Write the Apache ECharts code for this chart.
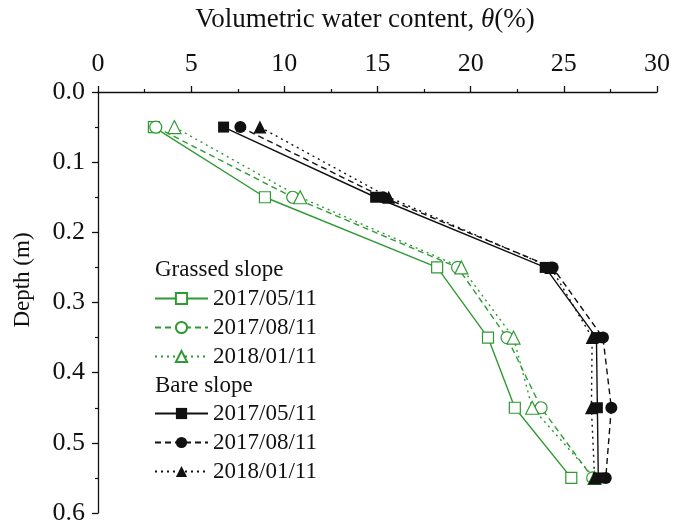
<!DOCTYPE html>
<html>
<head>
<meta charset="utf-8">
<script src="https://cdn.jsdelivr.net/npm/echarts@6/dist/echarts.min.js"></script>
<style>
  html, body { margin: 0; padding: 0; background: #fff; }
  #chart { width: 675px; height: 526px; }
</style>
</head>
<body>
<div id="chart"></div>
<script>
// Soil depth of each probe (m)
const depths = [0.05, 0.15, 0.25, 0.35, 0.45, 0.55];
const dateLabels = ['2017/05/11', '2017/08/11', '2018/01/11'];

// Volumetric water content (%) on the grassed slope
const grassedMay2017 = [3.0, 8.96, 18.2, 20.93, 22.37, 25.4];
const grassedAug2017 = [3.1, 10.45, 19.3, 21.95, 23.78, 26.55];
const grassedJan2018 = [4.1, 10.85, 19.5, 22.3, 23.3, 26.65];

// Volumetric water content (%) on the bare slope
const bareMay2017 = [6.74, 14.9, 24.0, 26.75, 26.8, 26.85];
const bareAug2017 = [7.64, 15.3, 24.4, 27.1, 27.55, 27.25];
const bareJan2018 = [8.69, 15.6, 24.3, 26.52, 26.48, 26.65];

const xTicks = { min: 0, max: 30, interval: 5 };
const yTicks = { min: 0, max: 0.6, interval: 0.1 };

const FONT = "'Liberation Serif', 'Times New Roman', serif";
const GREEN = '#2f9a34';
const BLACK = '#111111';

const pairs = (vals) => vals.map((v, i) => [v, depths[i]]);

function makeSeries(id, vals, color, hollow, symbol, dash, size) {
  return {
    id: id,
    name: id,
    type: 'line',
    data: pairs(vals),
    symbol: symbol,
    symbolSize: size,
    showAllSymbol: true,
    z: hollow ? 2 : 3,
    lineStyle: { color: color, width: 1.4, type: dash },
    itemStyle: hollow
      ? { color: '#ffffff', borderColor: color, borderWidth: 1.2 }
      : { color: color, borderColor: color, borderWidth: 0 },
    emphasis: { disabled: true },
    animation: false
  };
}

const series = [
  makeSeries('g1', grassedMay2017, GREEN, true, 'rect', 'solid', 11),
  makeSeries('g2', grassedAug2017, GREEN, true, 'circle', [6, 4], 12),
  makeSeries('g3', grassedJan2018, GREEN, true, 'triangle', [2, 4], 13),
  makeSeries('b1', bareMay2017, BLACK, false, 'rect', 'solid', 11),
  makeSeries('b2', bareAug2017, BLACK, false, 'circle', [6, 4], 12),
  makeSeries('b3', bareJan2018, BLACK, false, 'triangle', [2, 4], 13)
];

const legendBase = {
  orient: 'vertical',
  left: 154,
  padding: 0,
  itemWidth: 53,
  itemHeight: 14,
  itemGap: 6,
  selectedMode: false,
  textStyle: { fontFamily: FONT, fontSize: 23, color: BLACK, lineHeight: 23 },
  formatter: function (name) {
    return dateLabels[Number(name.slice(1)) - 1];
  }
};

const chart = echarts.init(document.getElementById('chart'), null, { renderer: 'canvas' });
chart.setOption({
  backgroundColor: '#ffffff',
  animation: false,
  grid: { left: 98, right: 18, top: 92, bottom: 13, containLabel: false },
  xAxis: {
    type: 'value',
    position: 'top',
    min: xTicks.min, max: xTicks.max, interval: xTicks.interval,
    axisLine: { show: true, lineStyle: { color: BLACK, width: 1.3 } },
    axisTick: { show: true, inside: false, length: 6, lineStyle: { color: BLACK, width: 1.3 } },
    minorTick: { show: true, splitNumber: 2, length: 3, lineStyle: { color: BLACK, width: 1.2 } },
    axisLabel: { fontFamily: FONT, fontSize: 26, color: BLACK, margin: 15 },
    splitLine: { show: false }
  },
  yAxis: {
    type: 'value',
    inverse: true,
    min: yTicks.min, max: yTicks.max, interval: yTicks.interval,
    axisLine: { show: true, lineStyle: { color: BLACK, width: 1.3 } },
    axisTick: { show: true, inside: false, length: 6, lineStyle: { color: BLACK, width: 1.3 } },
    minorTick: { show: true, splitNumber: 2, length: 3, lineStyle: { color: BLACK, width: 1.2 } },
    axisLabel: {
      fontFamily: FONT, fontSize: 26, color: BLACK, margin: 13,
      formatter: (v) => v.toFixed(1)
    },
    splitLine: { show: false }
  },
  legend: [
    Object.assign({}, legendBase, { top: 287, data: ['g1', 'g2', 'g3'] }),
    Object.assign({}, legendBase, { top: 402, data: ['b1', 'b2', 'b3'] })
  ],
  graphic: [
    {
      // x axis title
      type: 'text', x: 365, y: 20,
      style: {
        text: '{a|Volumetric water content, }{i|θ}{a|(%)}',
        align: 'center', verticalAlign: 'middle',
        rich: {
          a: { fontFamily: FONT, fontSize: 27, fill: BLACK },
          i: { fontFamily: FONT, fontSize: 27, fill: BLACK, fontStyle: 'italic' }
        }
      }
    },
    {
      // y axis title
      type: 'text', x: 23, y: 280, rotation: Math.PI / 2,
      style: {
        text: 'Depth (m)', font: '23px ' + FONT, fill: BLACK,
        align: 'center', verticalAlign: 'middle'
      }
    },
    {
      type: 'text', x: 155, y: 270,
      style: { text: 'Grassed slope', font: '23px ' + FONT, fill: BLACK, verticalAlign: 'middle' }
    },
    {
      type: 'text', x: 155, y: 386,
      style: { text: 'Bare slope', font: '23px ' + FONT, fill: BLACK, verticalAlign: 'middle' }
    }
  ],
  series: series
});
</script>
</body>
</html>
